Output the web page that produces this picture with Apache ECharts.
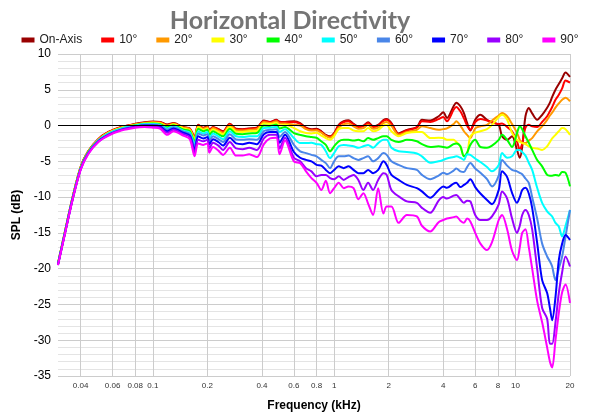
<!DOCTYPE html>
<html><head><meta charset="utf-8">
<script src="https://cdn.jsdelivr.net/npm/echarts@6/dist/echarts.min.js"></script>
<style>html,body{margin:0;padding:0;background:#fff}#c{width:600px;height:420px}</style>
</head><body><div id="c"></div>
<script>
// Frequencies (kHz)
const freqs = [
0.03,0.033,0.036,0.04,0.044,0.05,0.057,0.067,0.08,0.09,
0.1,0.11,0.12,0.13,0.147,0.16,0.17,0.178,0.19,0.2,
0.205,0.215,0.23,0.244,0.266,0.288,0.313,0.34,0.375,0.41,
0.443,0.48,0.5,0.536,0.6,0.65,0.7,0.75,0.8,0.85,
0.9,0.95,1.0,1.06,1.13,1.2,1.28,1.36,1.45,1.54,
1.64,1.75,1.87,1.95,2.07,2.27,2.52,2.86,3.05,3.39,
3.77,4.0,4.19,4.56,4.72,4.97,5.2,5.41,5.64,6.0,
6.41,6.97,7.43,8.09,8.44,9.0,9.58,10.2,10.57,10.9,
11.36,11.85,12.37,13.18,14.04,14.96,15.5,15.95,16.63,17.35,
18.1,18.9,20];

const onAxis = [
-19.3,-14.5,-10.2,-5.8,-3.6,-1.9,-0.9,-0.2,0.25,0.45,
0.55,0.5,0.15,0.35,-0.2,-0.4,-1.6,0.1,-0.3,-0.1,
-0.6,-0.2,-0.5,-0.8,0.25,-0.45,-0.5,-0.4,-0.3,0.7,
0.5,0.8,0.55,0.5,0.6,0.35,-0.3,-0.5,-0.45,-0.8,
-1.3,-1.5,-1.05,0.1,0.6,0.75,0.25,-0.1,0.0,0.45,
-0.1,0.1,0.75,0.9,0.35,-1.1,-0.6,-0.2,0.8,0.7,
1.3,1.85,1.05,2.7,3.2,2.7,1.75,0.4,-0.7,0.8,
1.5,0.8,0.4,0.1,-1.5,-2.0,-1.5,-3.4,-4.5,-3.0,
1.3,2.45,1.7,0.8,1.5,2.5,3.2,4.0,5.0,5.8,
6.6,7.4,6.8];

const deg10 = [
-19.3,-14.5,-10.2,-5.8,-3.6,-1.9,-0.9,-0.2,0.2,0.4,
0.5,0.45,0.1,0.3,-0.25,-0.45,-1.7,0.05,-0.35,-0.15,
-0.65,-0.25,-0.55,-0.85,0.2,-0.5,-0.55,-0.45,-0.35,0.65,
0.45,0.75,0.5,0.45,0.5,0.25,-0.4,-0.6,-0.55,-0.9,
-1.4,-1.6,-1.15,0.0,0.5,0.6,0.15,-0.2,-0.1,0.35,
-0.2,0.0,0.65,0.8,0.25,-1.2,-0.7,-0.3,0.6,0.5,
0.9,1.2,0.6,2.2,2.6,2.0,1.0,0.0,-0.6,0.5,
0.9,0.7,0.5,0.2,0.3,-0.2,-0.8,-2.2,-3.4,-2.5,
-0.3,0.1,-0.1,-0.2,0.5,1.3,2.0,2.6,3.6,4.3,
5.2,6.3,6.0];

const deg20 = [
-19.3,-14.5,-10.2,-5.8,-3.6,-2.0,-1.0,-0.3,0.15,0.35,
0.45,0.4,0.0,0.25,-0.3,-0.5,-1.8,-0.05,-0.45,-0.25,
-0.8,-0.35,-0.7,-1.0,0.05,-0.65,-0.7,-0.6,-0.5,0.5,
0.35,0.6,0.3,0.3,0.1,0.0,-0.5,-0.7,-0.65,-1.0,
-1.45,-1.7,-1.25,-0.3,0.2,0.3,-0.1,-0.45,-0.35,0.1,
-0.45,-0.3,0.35,0.5,-0.05,-1.3,-0.9,-0.6,-0.1,-0.35,
-0.6,-0.5,-0.4,0.2,0.6,0.0,-0.8,-1.3,-1.75,-0.4,
-0.1,0.1,0.7,1.4,1.75,1.3,0.2,-1.0,-2.0,-2.4,
-2.45,-2.1,-1.75,-0.8,-0.1,0.8,1.4,1.8,2.5,3.1,
3.6,3.9,3.4];

const deg30 = [
-19.3,-14.5,-10.3,-5.9,-3.7,-2.0,-1.0,-0.3,0.1,0.3,
0.4,0.3,-0.1,0.15,-0.4,-0.65,-2.0,-0.2,-0.6,-0.4,
-1.0,-0.55,-0.9,-1.2,-0.15,-0.85,-0.9,-0.8,-0.75,0.3,
0.2,0.4,0.0,0.1,-0.35,-0.8,-1.05,-1.1,-1.0,-1.4,
-1.75,-2.0,-1.5,-0.5,-0.35,-0.35,-0.7,-0.8,-0.8,-0.35,
-0.8,-0.6,0.0,0.1,-0.8,-1.5,-1.05,-0.9,-0.9,-1.75,
-1.7,-1.75,-2.0,-2.0,-2.3,-2.9,-4.3,-4.0,-1.5,-1.0,
-0.8,-0.5,0.1,1.2,1.5,0.8,-1.0,-2.0,-2.3,-2.45,
-2.6,-2.9,-3.1,-3.2,-3.4,-2.9,-2.3,-1.8,-1.3,-0.8,
-0.35,-0.5,-1.3];

const deg40 = [
-19.3,-14.6,-10.3,-5.9,-3.7,-2.1,-1.1,-0.4,0.05,0.25,
0.3,0.2,-0.25,0.05,-0.55,-0.8,-2.3,-0.45,-0.8,-0.6,
-1.3,-0.8,-1.2,-1.5,-0.45,-1.15,-1.2,-1.1,-1.05,0.0,
-0.05,0.15,-0.4,-0.2,-1.05,-1.3,-1.5,-1.6,-1.7,-2.2,
-2.7,-3.6,-2.9,-2.2,-2.0,-2.0,-2.1,-2.0,-2.2,-1.75,
-2.0,-1.75,-1.5,-1.5,-2.0,-2.3,-2.0,-2.2,-2.6,-3.0,
-2.9,-3.0,-3.1,-2.6,-2.5,-2.9,-4.3,-3.8,-2.7,-2.0,
-3.0,-3.1,-2.8,-2.0,-1.3,-2.0,-3.0,-1.05,-0.1,-0.5,
-1.5,-2.4,-3.4,-4.8,-5.7,-6.9,-7.0,-7.0,-6.9,-7.0,
-6.5,-6.6,-8.5];

const deg50 = [
-19.4,-14.6,-10.3,-6.0,-3.8,-2.1,-1.1,-0.4,0.0,0.2,
0.2,0.1,-0.4,-0.1,-0.7,-1.0,-2.6,-0.8,-1.1,-0.9,
-1.7,-1.1,-1.5,-1.9,-0.8,-1.5,-1.6,-1.5,-1.5,-0.35,
-0.3,-0.15,-0.9,-0.5,-1.75,-2.45,-2.45,-2.4,-2.6,-2.7,
-3.6,-4.55,-3.85,-2.9,-2.7,-2.8,-2.9,-3.1,-2.9,-2.7,
-3.1,-2.45,-2.0,-2.0,-3.1,-3.6,-3.7,-3.9,-4.3,-5.2,
-5.0,-4.8,-4.6,-4.4,-4.3,-4.5,-4.8,-4.0,-4.1,-4.6,
-5.1,-5.8,-6.4,-5.5,-3.85,-4.5,-4.3,-3.4,-3.4,-3.7,
-4.2,-5.2,-6.2,-8.7,-10.8,-12.0,-12.4,-12.7,-13.6,-14.1,
-15.5,-14.0,-11.8];

const deg60 = [
-19.4,-14.6,-10.4,-6.0,-3.8,-2.2,-1.2,-0.5,-0.1,0.1,
0.1,0.0,-0.6,-0.25,-0.85,-1.2,-3.0,-1.1,-1.4,-1.2,
-2.1,-1.5,-1.9,-2.3,-1.2,-1.95,-2.0,-1.9,-2.0,-0.75,
-0.6,-0.5,-1.6,-0.9,-2.7,-3.6,-3.85,-4.1,-4.3,-4.8,
-5.25,-5.95,-5.0,-4.3,-4.3,-4.2,-4.55,-4.8,-4.55,-4.3,
-5.0,-4.55,-3.85,-4.1,-5.0,-5.5,-5.95,-6.2,-6.9,-7.5,
-7.0,-6.6,-6.8,-6.3,-6.0,-6.4,-6.5,-5.8,-5.25,-6.0,
-6.6,-7.5,-8.5,-7.0,-4.8,-5.6,-6.2,-6.4,-6.6,-6.8,
-7.4,-8.0,-10.0,-13.0,-16.5,-18.3,-19.0,-19.7,-21.6,-20.0,
-18.3,-15.5,-11.8];

const deg70 = [
-19.4,-14.7,-10.4,-6.1,-3.9,-2.2,-1.3,-0.6,-0.15,0.0,
0.0,-0.15,-0.8,-0.4,-1.0,-1.4,-3.4,-1.5,-1.8,-1.6,
-2.6,-1.9,-2.3,-2.8,-1.7,-2.5,-2.6,-2.4,-2.6,-1.2,
-0.9,-0.9,-2.4,-1.3,-3.7,-4.5,-4.8,-5.0,-5.5,-5.6,
-6.2,-6.65,-6.2,-5.7,-5.95,-5.7,-6.2,-6.65,-6.65,-6.2,
-6.65,-6.2,-5.0,-5.5,-6.9,-7.6,-8.3,-8.75,-9.2,-10.1,
-9.0,-8.5,-8.7,-8.1,-8.0,-8.6,-8.3,-8.0,-7.5,-8.6,
-9.5,-10.4,-11.0,-9.0,-6.4,-7.2,-9.4,-10.8,-10.0,-9.0,
-8.7,-9.5,-11.5,-16.4,-21.6,-23.4,-25.5,-27.2,-24.0,-18.8,
-16.5,-15.3,-16.0];

const deg80 = [
-19.5,-14.7,-10.5,-6.1,-3.9,-2.3,-1.3,-0.6,-0.2,-0.1,
-0.15,-0.3,-1.0,-0.6,-1.2,-1.6,-3.8,-2.0,-2.2,-2.0,
-3.2,-2.4,-2.8,-3.4,-2.3,-3.2,-3.3,-3.1,-3.4,-1.8,
-1.3,-1.3,-3.2,-1.7,-4.5,-5.0,-5.95,-6.4,-7.1,-6.9,
-6.9,-7.35,-7.5,-7.1,-7.6,-7.2,-6.9,-7.6,-9.0,-8.0,
-9.0,-7.6,-6.65,-6.9,-9.0,-9.9,-10.6,-10.8,-11.5,-12.2,
-10.5,-10.0,-10.2,-9.8,-9.7,-10.3,-10.8,-10.5,-10.6,-12.5,
-13.2,-13.2,-12.7,-11.0,-9.2,-10.2,-13.0,-15.0,-14.0,-12.5,
-11.8,-12.5,-14.5,-20.0,-25.5,-27.0,-30.5,-30.5,-27.5,-23.4,
-20.5,-18.3,-19.7];

const deg90 = [
-19.5,-14.8,-10.5,-6.2,-4.0,-2.3,-1.4,-0.7,-0.3,-0.2,
-0.3,-0.45,-1.3,-0.8,-1.4,-1.9,-4.3,-2.5,-2.7,-2.5,
-3.8,-3.0,-3.5,-4.1,-3.1,-4.2,-4.2,-4.0,-4.4,-2.6,
-1.8,-1.7,-4.0,-2.1,-5.0,-5.25,-6.4,-7.35,-8.0,-9.0,
-7.7,-9.45,-8.75,-8.0,-8.75,-8.5,-8.75,-10.3,-9.45,-10.9,
-12.5,-8.75,-12.3,-11.3,-11.3,-13.6,-12.5,-12.7,-14.0,-14.8,
-13.5,-13.2,-13.0,-12.8,-12.7,-13.3,-13.6,-13.0,-13.4,-15.0,
-16.5,-17.4,-16.3,-13.2,-12.5,-14.5,-17.5,-18.8,-17.0,-15.0,
-14.5,-17.0,-20.0,-24.5,-27.5,-31.0,-33.0,-33.8,-30.0,-26.2,
-23.3,-22.2,-24.8];

const seriesNames = ['On-Axis','10°','20°','30°','40°','50°','60°','70°','80°','90°'];
const seriesValues = [onAxis,deg10,deg20,deg30,deg40,deg50,deg60,deg70,deg80,deg90];
const seriesColors = ['#990000','#ff0000','#ff9900','#ffff00','#00ff00','#00ffff','#4a86e8','#0000ff','#9900ff','#ff00ff'];
const xTickValues = [0.04,0.06,0.08,0.1,0.2,0.4,0.6,0.8,1,2,4,6,8,10,20];

const chart = echarts.init(document.getElementById('c'), null, {renderer:'canvas'});
const series = seriesNames.map((name, k) => {
  const s = {
    name: name,
    type: 'line',
    data: freqs.map((f, i) => [f, seriesValues[k][i]]),
    showSymbol: false,
    symbol: 'none',
    smooth: 0.3,
    lineStyle: {width: 2, color: seriesColors[k]},
    itemStyle: {color: seriesColors[k]},
    animation: false
  };
  if (k === 0) {
    s.markLine = {silent: true, symbol: 'none', label: {show: false},
      lineStyle: {color: '#000', width: 1, type: 'solid'}, data: [{yAxis: 0}], animation: false};
  }
  return s;
});

chart.setOption({
  animation: false,
  backgroundColor: '#fff',
  title: {text: 'Horizontal Directivity', left: 285, textAlign: 'center', top: 3,
    textStyle: {fontSize: 25, fontWeight: 'bold', color: '#757575', fontFamily: 'Lato'}},
  legend: {top: 29, left: 'center', icon: 'rect', itemWidth: 13, itemHeight: 5, itemGap: 19,
    textStyle: {fontSize: 12, color: '#222', fontFamily: 'Liberation Sans'}, data: seriesNames},
  grid: {left: 58, right: 30, top: 54, bottom: 44, containLabel: false},
  xAxis: {
    type: 'log', logBase: 10, min: 0.03, max: 20,
    name: 'Frequency (kHz)', nameLocation: 'middle', nameGap: 24,
    nameTextStyle: {fontSize: 12, color: '#000', fontWeight: 'bold', fontFamily: 'Liberation Sans'},
    axisLine: {show: false},
    axisTick: {show: false, customValues: xTickValues},
    axisLabel: {customValues: xTickValues, fontSize: 8, color: '#333', margin: 6,
      fontFamily: 'Liberation Sans', formatter: v => String(parseFloat(Number(v).toPrecision(3)))},
    splitLine: {show: true, lineStyle: {color: '#cccccc', width: 1}}
  },
  yAxis: {
    type: 'value', min: -35, max: 10, interval: 5,
    name: 'SPL (dB)', nameLocation: 'middle', nameGap: 27,
    nameTextStyle: {fontSize: 12, color: '#000', fontWeight: 'bold', fontFamily: 'Liberation Sans'},
    axisLine: {show: false}, axisTick: {show: false},
    axisLabel: {fontSize: 12, color: '#000', margin: 7, fontFamily: 'Liberation Sans'},
    splitLine: {show: true, lineStyle: {color: '#cccccc'}},
    minorTick: {show: false, splitNumber: 5},
    minorSplitLine: {show: true, lineStyle: {color: '#e4e4e4'}}
  },
  series: series
});
</script></body></html>
